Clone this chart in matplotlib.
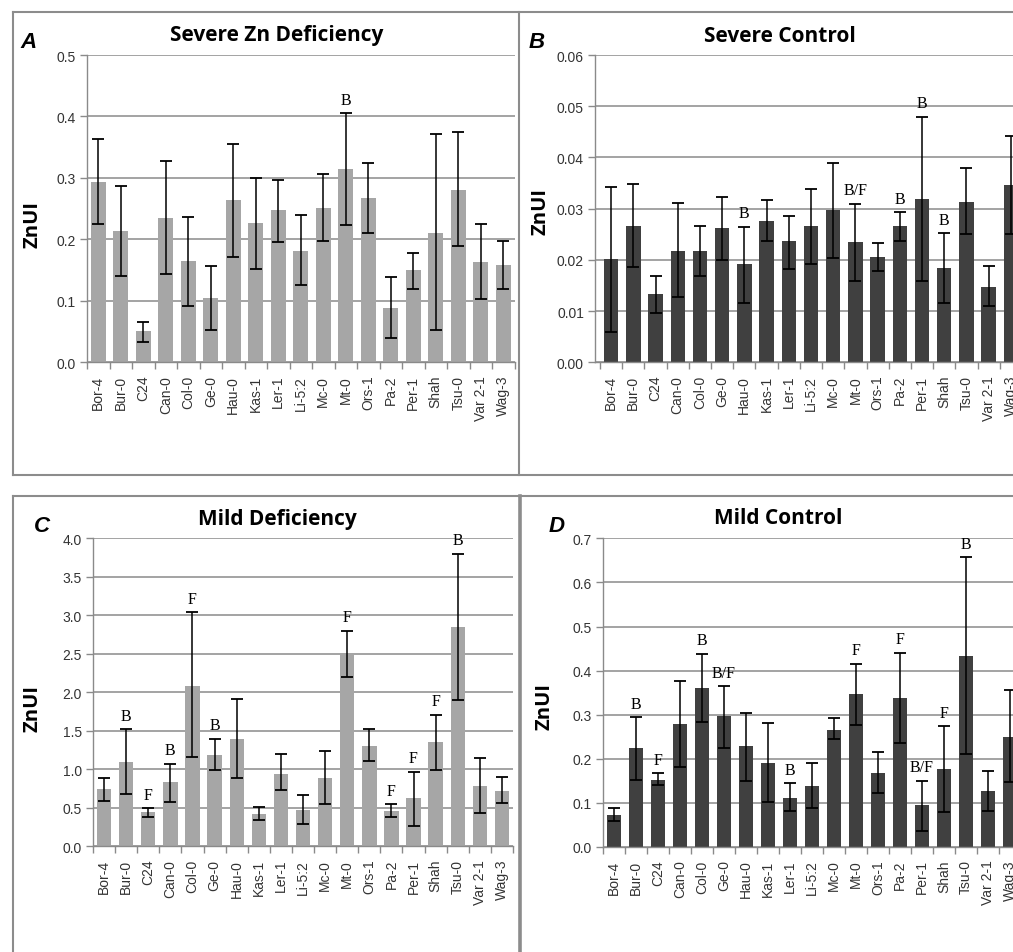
import numpy as np
import matplotlib
matplotlib.use("Agg")
import matplotlib.pyplot as plt
from matplotlib.lines import Line2D

# accessions (same order in all four panels)
accessions = ['Bor-4', 'Bur-0', 'C24', 'Can-0', 'Col-0', 'Ge-0', 'Hau-0', 'Kas-1', 'Ler-1',
              'Li-5:2', 'Mc-0', 'Mt-0', 'Ors-1', 'Pa-2', 'Per-1', 'Shah', 'Tsu-0', 'Var 2-1', 'Wag-3']

# A - severe Zn deficiency
sev_def_mean = [0.293, 0.213, 0.051, 0.235, 0.165, 0.104, 0.264, 0.227, 0.248, 0.181,
                0.251, 0.314, 0.267, 0.088, 0.150, 0.211, 0.281, 0.163, 0.158]
sev_def_lo = [0.225, 0.140, 0.033, 0.143, 0.092, 0.053, 0.171, 0.151, 0.195, 0.125,
              0.197, 0.223, 0.210, 0.040, 0.119, 0.052, 0.190, 0.103, 0.119]
sev_def_hi = [0.364, 0.287, 0.066, 0.328, 0.237, 0.157, 0.356, 0.300, 0.297, 0.239,
              0.307, 0.405, 0.324, 0.138, 0.178, 0.372, 0.375, 0.225, 0.197]
sev_def_sig = ['', '', '', '', '', '', '', '', '', '', '', 'B', '', '', '', '', '', '', '']

# B - severe control
sev_ctl_mean = [0.0201, 0.0266, 0.0133, 0.0217, 0.0217, 0.0262, 0.0192, 0.0276, 0.0237, 0.0266,
                0.0297, 0.0235, 0.0206, 0.0266, 0.0319, 0.0184, 0.0313, 0.0147, 0.0346]
sev_ctl_lo = [0.0060, 0.0186, 0.0096, 0.0127, 0.0168, 0.0200, 0.0115, 0.0237, 0.0182, 0.0191,
              0.0203, 0.0158, 0.0179, 0.0237, 0.0159, 0.0115, 0.0250, 0.0109, 0.0250]
sev_ctl_hi = [0.0343, 0.0349, 0.0169, 0.0311, 0.0267, 0.0323, 0.0265, 0.0316, 0.0286, 0.0338,
              0.0390, 0.0310, 0.0233, 0.0293, 0.0479, 0.0252, 0.0379, 0.0189, 0.0442]
sev_ctl_sig = ['', '', '', '', '', '', 'B', '', '', '', '', 'B/F', '', 'B', 'B', 'B', '', '', '']

# C - mild deficiency
mild_def_mean = [0.745, 1.095, 0.450, 0.835, 2.080, 1.186, 1.394, 0.420, 0.939, 0.472,
                 0.887, 2.485, 1.303, 0.459, 0.628, 1.355, 2.848, 0.784, 0.719]
mild_def_lo = [0.584, 0.675, 0.381, 0.580, 1.165, 0.991, 0.883, 0.342, 0.732, 0.290,
               0.545, 2.195, 1.104, 0.377, 0.268, 0.991, 1.905, 0.437, 0.567]
mild_def_hi = [0.883, 1.519, 0.494, 1.069, 3.040, 1.398, 1.909, 0.506, 1.199, 0.667,
               1.242, 2.800, 1.519, 0.545, 0.970, 1.710, 3.797, 1.143, 0.905]
mild_def_sig = ['', 'B', 'F', 'B', 'F', 'B', '', '', '', '', '', 'F', '', 'F', 'F', 'F', 'B', '', '']

# D - mild control
mild_ctl_mean = [0.073, 0.224, 0.151, 0.280, 0.361, 0.296, 0.228, 0.191, 0.112, 0.138,
                 0.266, 0.348, 0.168, 0.338, 0.096, 0.178, 0.432, 0.128, 0.250]
mild_ctl_lo = [0.060, 0.153, 0.141, 0.182, 0.284, 0.225, 0.150, 0.101, 0.082, 0.088,
               0.245, 0.277, 0.122, 0.235, 0.036, 0.079, 0.212, 0.082, 0.148]
mild_ctl_hi = [0.088, 0.294, 0.167, 0.376, 0.438, 0.364, 0.304, 0.281, 0.144, 0.190,
               0.292, 0.416, 0.216, 0.441, 0.150, 0.274, 0.657, 0.173, 0.356]
mild_ctl_sig = ['', 'B', 'F', '', 'B', 'B/F', '', '', 'B', '', '', 'F', '', 'F', 'B/F', 'F', 'B', '', '']

W, H = 1013, 953
fig = plt.figure(figsize=(W / 100, H / 100), dpi=100)

LIGHT = '#a6a6a6'
DARK = '#404040'
GRID = '#8a8a8a'


def add_ax(left, top, right, bottom):
    return fig.add_axes([left / W, 1 - bottom / H, (right - left) / W, (bottom - top) / H])


def panel(ax, mean, lo, hi, sig, color, yticks, yticklabels, xlim):
    x = np.arange(len(accessions))
    mean = np.array(mean)
    yerr = [mean - np.array(lo), np.array(hi) - mean]
    ax.bar(x, mean, width=0.65, color=color, zorder=2)
    ax.errorbar(x, mean, yerr=yerr, fmt='none', ecolor='black', elinewidth=1.1,
                capsize=4.3, capthick=1.3, zorder=3)
    for xi, top, s in zip(x, hi, sig):
        if s:
            ax.annotate(s, (xi, top), xytext=(0, 4), textcoords='offset points',
                        ha='center', va='bottom', fontsize=11.5, family='Liberation Serif')
    ax.set_xlim(*xlim)
    ax.set_ylim(yticks[0], yticks[-1])
    ax.set_yticks(yticks)
    ax.set_yticklabels(yticklabels, fontsize=10, family='Liberation Sans', color='#333333')
    ax.yaxis.grid(True, color=GRID, lw=1.1, zorder=0)
    ax.set_axisbelow(True)
    ax.set_xticks(x)
    ax.set_xticklabels(accessions, rotation=90, fontsize=10, family='Liberation Sans', color='#333333')
    ax.set_xticks(np.arange(-0.5, len(accessions)), minor=True)
    ax.tick_params(axis='x', which='major', length=0, pad=9)
    ax.tick_params(axis='x', which='minor', length=5, color=GRID, width=1)
    ax.tick_params(axis='y', length=5, color=GRID, width=1, pad=3)
    for s in ('top', 'right'):
        ax.spines[s].set_visible(False)
    for s in ('left', 'bottom'):
        ax.spines[s].set_color(GRID)
        ax.spines[s].set_linewidth(1.0)


axA = add_ax(87, 56, 514.5, 363.3)
panel(axA, sev_def_mean, sev_def_lo, sev_def_hi, sev_def_sig, LIGHT,
      np.arange(0, 0.51, 0.1), ['0.0', '0.1', '0.2', '0.3', '0.4', '0.5'], (-0.5, 18.5))

axB = add_ax(595, 56, 1022, 363.3)
panel(axB, sev_ctl_mean, sev_ctl_lo, sev_ctl_hi, sev_ctl_sig, DARK,
      np.arange(0, 0.061, 0.01), ['0.00', '0.01', '0.02', '0.03', '0.04', '0.05', '0.06'], (-0.725, 18.5))

axC = add_ax(93, 539.3, 513, 847.3)
panel(axC, mild_def_mean, mild_def_lo, mild_def_hi, mild_def_sig, LIGHT,
      np.arange(0, 4.01, 0.5), ['0.0', '0.5', '1.0', '1.5', '2.0', '2.5', '3.0', '3.5', '4.0'], (-0.5, 18.5))

axD = add_ax(603, 539.3, 1021, 848)
panel(axD, mild_ctl_mean, mild_ctl_lo, mild_ctl_hi, mild_ctl_sig, DARK,
      np.arange(0, 0.71, 0.1), ['0.0', '0.1', '0.2', '0.3', '0.4', '0.5', '0.6', '0.7'], (-0.5, 18.5))

# titles, panel letters, y labels
titles = [('Severe Zn Deficiency', 277, 36), ('Severe Control', 780, 36),
          ('Mild Deficiency', 277, 520), ('Mild Control', 778, 519)]
for t, x, y in titles:
    fig.text(x / W, 1 - y / H, t, ha='center', va='center', fontsize=15,
             fontweight='bold', family='Open Sans')

letters = [('A', 20, 48), ('B', 529, 48), ('C', 34, 532), ('D', 549, 532)]
for t, x, y in letters:
    fig.text(x / W, 1 - y / H, t, ha='left', va='baseline', fontsize=16,
             fontweight='bold', fontstyle='italic', family='Liberation Sans')

ylabels = [(33, 225), (540, 212), (33, 709), (544, 707)]
for x, y in ylabels:
    fig.text(x / W, 1 - y / H, 'ZnUI', ha='center', va='center', rotation=90,
             fontsize=14.5, fontweight='bold', family='Open Sans')

# panel frames
frame = dict(color='#8c8c8c', lw=1.5, transform=fig.transFigure)


def fline(x1, y1, x2, y2, **kw):
    fig.add_artist(Line2D([x1 / W, x2 / W], [1 - y1 / H, 1 - y2 / H], **kw))


fline(12.7, 13.3, W, 13.3, **frame)
fline(12.7, 13.3, 12.7, 476, **frame)
fline(12.7, 476, W, 476, **frame)
fline(519, 13.3, 519, 476, **frame)
fline(12.5, 497, W, 497, **frame)
fline(12.5, 497, 12.5, H, **frame)
fline(519.5, 497, 519.5, H, color='#8c8c8c', lw=2.6, transform=fig.transFigure)

fig.savefig('out.png', dpi=100)
